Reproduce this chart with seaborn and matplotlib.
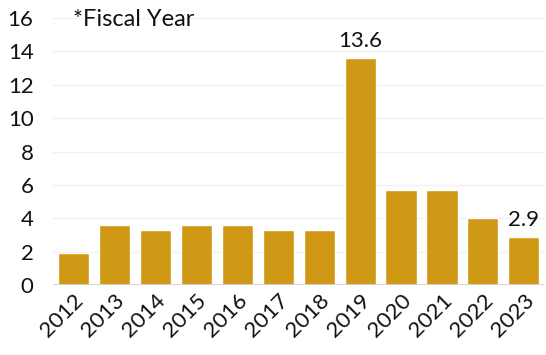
import matplotlib
matplotlib.use("Agg")
import matplotlib.pyplot as plt
import seaborn as sns
import pandas as pd

years = ["2012", "2013", "2014", "2015", "2016", "2017", "2018", "2019", "2020", "2021", "2022", "2023"]
values = [1.9, 3.6, 3.3, 3.6, 3.6, 3.3, 3.3, 13.6, 5.7, 5.7, 4.0, 2.9]
labelled = {"2019": "13.6", "2023": "2.9"}
yticks = [0, 2, 4, 6, 8, 10, 12, 14, 16]

sns.set_theme(style="white")
plt.rcParams['font.family'] = ['Lato', 'DejaVu Sans']

df = pd.DataFrame({"year": years, "value": values})

fig = plt.figure(figsize=(5.46, 3.55), dpi=100)
ax = fig.add_axes([0.097, 0.197, 0.90, 0.752])

for t in yticks[1:]:
    ax.axhline(t, color="#f0f0f0", lw=1, zorder=0)

sns.barplot(data=df, x="year", y="value", color="#CF9916", saturation=1,
            width=0.76, ax=ax, zorder=2)
ax.axhline(0, color="#d0d0d0", lw=2, zorder=3)

for i, (y, v) in enumerate(zip(years, values)):
    if y in labelled:
        ax.text(i, v + 0.4, labelled[y], ha="center", va="bottom", fontsize=16, color="#111111")

ax.set_ylim(0, 16)
ax.set_xlim(-0.5, len(years) - 0.5)
ax.set_yticks(yticks)
ax.set_yticklabels([str(t) for t in yticks], fontsize=16, color="#111111")
ax.set_xticks(range(len(years)))
ax.set_xticklabels(years, rotation=45, ha="right", rotation_mode="anchor", fontsize=16, color="#111111")
ax.tick_params(axis="both", length=0, pad=4)
ax.tick_params(axis="y", pad=14)
ax.set_xlabel("")
ax.set_ylabel("")
for s in ax.spines.values():
    s.set_visible(False)

fig.text(0.134, 0.945, "*Fiscal Year", fontsize=17, ha="left", va="center", color="#111111")

fig.savefig("out.png", dpi=100)
